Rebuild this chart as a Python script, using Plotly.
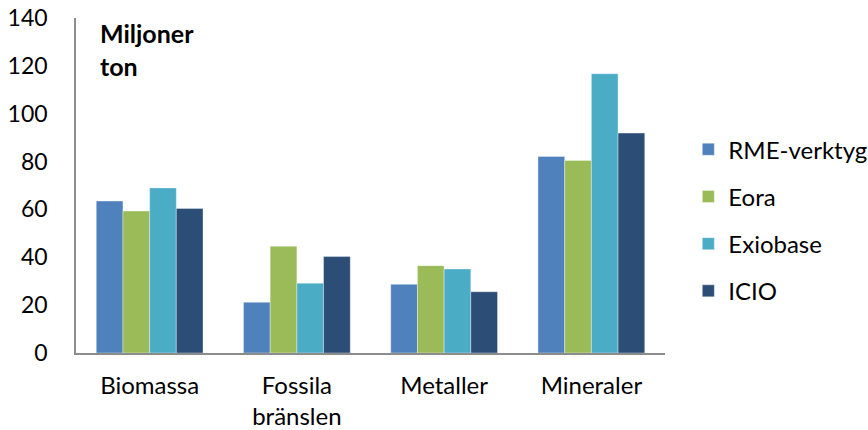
import plotly.graph_objects as go

categories = ["Biomassa", "Fossila<br>bränslen", "Metaller", "Mineraler"]
series_names = ["RME-verktyg", "Eora", "Exiobase", "ICIO"]
rme = [63.5, 21.2, 28.7, 82.1]
eora = [59.3, 44.6, 36.5, 80.5]
exiobase = [69.0, 29.2, 35.1, 116.7]
icio = [60.4, 40.3, 25.6, 91.9]
colors = ["#4F81BD", "#9BBB59", "#4BACC6", "#2C4D75"]
y_ticks = [0, 20, 40, 60, 80, 100, 120, 140]

FONT = "Lato, 'Open Sans', sans-serif"
FS = 24

fig = go.Figure()
for i, (name, vals) in enumerate(zip(series_names, [rme, eora, exiobase, icio])):
    fig.add_trace(go.Bar(
        x=categories, y=vals, name=name,
        marker=dict(color=colors[i], line=dict(color="rgba(255,255,255,0.35)", width=1)),
        legendgroup=name,
    ))

fig.update_layout(
    width=868, height=430,
    margin=dict(l=76, r=203, t=18, b=77),
    paper_bgcolor="white", plot_bgcolor="white",
    barmode="group", bargap=0.275, bargroupgap=0,
    font=dict(family=FONT, size=FS, color="#000000"),
    showlegend=True,
    legend=dict(
        xref="container", yref="container",
        x=0.793, y=0.488, xanchor="left", yanchor="middle",
        font=dict(size=FS), tracegroupgap=13,
        bgcolor="rgba(0,0,0,0)",
    ),
    xaxis=dict(
        showline=True, linecolor="#8c8c8c", linewidth=1.5,
        ticks="", showgrid=False, ticklabelstandoff=10,
        tickfont=dict(size=FS), automargin=False,
    ),
    yaxis=dict(
        range=[0, 140], tickvals=y_ticks, showgrid=False,
        showline=True, linecolor="#8c8c8c", linewidth=1.5,
        ticks="", ticklabelstandoff=22, zeroline=False,
        tickfont=dict(size=23), automargin=False,
    ),
    annotations=[dict(
        text="<b>Miljoner<br>ton</b>", xref="paper", yref="paper",
        x=0.037, y=1.005, xanchor="left", yanchor="top", showarrow=False,
        align="left", font=dict(size=25),
    )],
)

fig.write_html("out.html")
